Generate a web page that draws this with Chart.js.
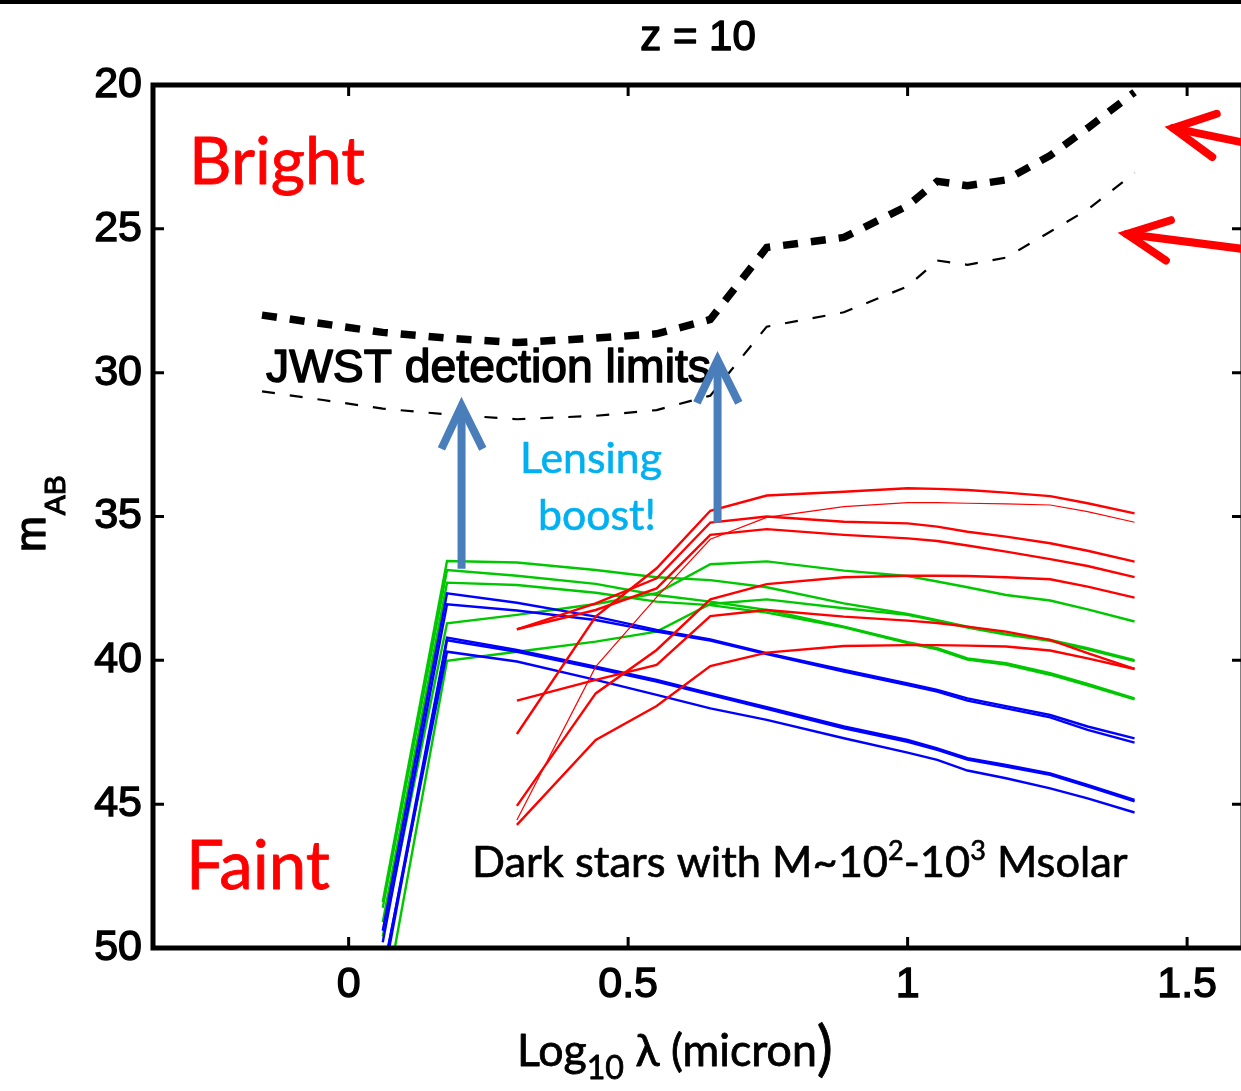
<!DOCTYPE html>
<html>
<head>
<meta charset="UTF-8">
<title>z = 10</title>
<script src="https://cdn.jsdelivr.net/npm/chart.js"></script>
<style>
  html, body { margin: 0; padding: 0; background: #fff; overflow: hidden; }
  canvas { display: block; }
</style>
</head>
<body>
<canvas id="sedChart" width="1260" height="1091"></canvas>
<script>
// axis ticks
const xTicks = [0, 0.5, 1, 1.5];
const yTicks = [20, 25, 30, 35, 40, 45, 50];

// JWST detection limits, log10 of filter wavelength (micron)
const limitWave = [-0.155, -0.046, 0.061, 0.176, 0.301, 0.442, 0.551, 0.647, 0.748, 0.886, 1.0, 1.053, 1.107, 1.176, 1.255, 1.322, 1.406];
const limitThick = [28.0, 28.3, 28.6, 28.8, 28.95, 28.8, 28.65, 28.15, 25.65, 25.3, 24.2, 23.35, 23.5, 23.3, 22.45, 21.5, 20.25];
const limitThin = [30.65, 30.95, 31.25, 31.45, 31.62, 31.5, 31.3, 30.8, 28.4, 27.9, 27.0, 26.1, 26.25, 26.0, 25.1, 24.33, 23.05];

// dark star models
const modelWave = [0.061, 0.176, 0.301, 0.442, 0.551, 0.647, 0.748, 0.886, 1.0, 1.053, 1.107, 1.176, 1.255, 1.322, 1.406];

const green1 = [48.4, 36.55, 36.6, 36.86, 37.11, 37.21, 37.46, 38.02, 38.39, 38.6, 38.83, 39.08, 39.29, 39.58, 39.99];
const green2 = [48.6, 36.86, 37.06, 37.34, 37.73, 37.96, 38.25, 38.83, 39.37, 39.58, 39.93, 40.1, 40.45, 40.82, 41.32];
const green3 = [49.1, 37.3, 37.38, 37.65, 37.96, 38.08, 38.34, 38.85, 39.4, 39.62, 39.97, 40.15, 40.5, 40.87, 41.36];
const green4 = [49.6, 38.71, 38.42, 38.04, 37.67, 36.66, 36.56, 36.88, 37.07, 37.26, 37.46, 37.73, 37.92, 38.23, 38.65];
const green5 = [52.3, 40.02, 39.7, 39.35, 39.0, 38.04, 37.88, 38.19, 38.42, 38.63, 38.86, 39.1, 39.32, 39.62, 40.03];

const blue1 = [49.4, 37.67, 38.0, 38.48, 38.94, 39.27, 39.75, 40.33, 40.8, 41.03, 41.32, 41.59, 41.9, 42.3, 42.71];
const blue2 = [49.8, 38.05, 38.27, 38.6, 39.0, 39.31, 39.78, 40.39, 40.86, 41.09, 41.4, 41.67, 41.98, 42.42, 42.86];
const blue3 = [51.0, 39.21, 39.64, 40.22, 40.68, 41.15, 41.63, 42.3, 42.77, 43.06, 43.4, 43.64, 43.93, 44.33, 44.85];
const blue4 = [51.2, 39.3, 39.7, 40.28, 40.74, 41.2, 41.69, 42.36, 42.83, 43.11, 43.45, 43.69, 43.98, 44.38, 44.9];
const blue5 = [50.9, 39.7, 40.04, 40.68, 41.2, 41.67, 42.07, 42.71, 43.21, 43.46, 43.83, 44.1, 44.45, 44.8, 45.29];

const red1 = [null, null, 42.56, 38.48, 36.8, 34.8, 34.27, 34.14, 34.02, 34.04, 34.08, 34.17, 34.29, 34.54, 34.89];
const red2 = [null, null, 45.55, 40.22, 37.8, 35.79, 35.03, 34.66, 34.52, 34.52, 34.54, 34.56, 34.6, 34.83, 35.2];
const red3 = [null, null, 38.92, 38.02, 37.15, 35.21, 35.0, 35.18, 35.24, 35.35, 35.53, 35.7, 35.93, 36.19, 36.57];
const red4 = [null, null, 38.92, 38.25, 37.5, 35.64, 35.44, 35.64, 35.76, 35.85, 36.01, 36.22, 36.48, 36.72, 37.11];
const red5 = [null, null, 45.06, 41.15, 39.64, 37.88, 37.35, 37.11, 37.06, 37.06, 37.07, 37.11, 37.18, 37.44, 37.82];
const red6 = [null, null, 41.4, 40.68, 40.16, 38.46, 38.25, 38.48, 38.62, 38.7, 38.83, 39.0, 39.29, 39.75, 40.3];
const red7 = [null, null, 45.72, 42.77, 41.59, 40.2, 39.73, 39.5, 39.47, 39.47, 39.49, 39.52, 39.66, 39.93, 40.3];

const ARIAL = '"Liberation Sans", Arial, sans-serif';
const SOFT = 'Lato, "Open Sans", sans-serif';

function pts(xs, ys) {
  const out = [];
  xs.forEach((x, i) => { if (ys[i] !== null) out.push({ x: x, y: ys[i] }); });
  return out;
}

function series(ys, color, width, order) {
  return {
    data: pts(modelWave, ys),
    borderColor: color,
    borderWidth: width,
    pointRadius: 0,
    tension: 0,
    fill: false,
    order: order
  };
}

const datasets = [
  { data: pts(limitWave, limitThick), borderColor: '#000', borderWidth: 7.5, borderDash: [15, 13],
    borderCapStyle: 'butt', pointRadius: 0, tension: 0, fill: false, order: 0 },
  { data: pts(limitWave, limitThin), borderColor: '#000', borderWidth: 2.2, borderDash: [13, 15],
    pointRadius: 0, tension: 0, fill: false, order: 0 },
  series(red1, '#ff0000', 2.4, 1),
  series(red2, '#ff0000', 1.2, 1),
  series(red3, '#ff0000', 2.4, 1),
  series(red4, '#ff0000', 2.4, 1),
  series(red5, '#ff0000', 2.4, 1),
  series(red6, '#ff0000', 2.4, 1),
  series(red7, '#ff0000', 2.4, 1),
  series(blue1, '#0000ff', 2.4, 2),
  series(blue2, '#0000ff', 2.4, 2),
  series(blue3, '#0000ff', 2.4, 2),
  series(blue4, '#0000ff', 2.4, 2),
  series(blue5, '#0000ff', 2.4, 2),
  series(green1, '#00c800', 2.4, 3),
  series(green2, '#00c800', 2.4, 3),
  series(green3, '#00c800', 2.4, 3),
  series(green4, '#00c800', 2.4, 3),
  series(green5, '#00c800', 2.4, 3)
];

// text helpers: fill plus a thin stroke to match the heavier source type
function put(ctx, text, x, y, heavy) {
  ctx.fillText(text, x, y);
  if (heavy) {
    ctx.lineWidth = heavy;
    ctx.strokeStyle = ctx.fillStyle;
    ctx.strokeText(text, x, y);
  }
}

function fitText(ctx, text, family, width) {
  ctx.font = '100px ' + family;
  return 100 * width / ctx.measureText(text).width;
}

function drawRich(ctx, parts, x, y, width, family, heavy) {
  let w = 0;
  parts.forEach(p => {
    ctx.font = (100 * (p.scale || 1)) + 'px ' + family;
    w += ctx.measureText(p.t).width;
  });
  const size = 100 * width / w;
  let cx = x;
  parts.forEach(p => {
    ctx.font = (size * (p.scale || 1)) + 'px ' + family;
    put(ctx, p.t, cx, y + size * (p.dy || 0), heavy);
    cx += ctx.measureText(p.t).width;
  });
}

function arrow(ctx, chart, tail, tip, legA, legB) {
  const x = chart.scales.x, y = chart.scales.y;
  const P = d => [x.getPixelForValue(d[0]), y.getPixelForValue(d[1])];
  const t0 = P(tail), t1 = P(tip), a = P(legA), b = P(legB);
  ctx.beginPath();
  ctx.moveTo(t0[0], t0[1]);
  ctx.lineTo(t1[0], t1[1]);
  ctx.stroke();
  ctx.beginPath();
  ctx.moveTo(a[0], a[1]);
  ctx.lineTo(t1[0], t1[1]);
  ctx.lineTo(b[0], b[1]);
  ctx.stroke();
}

const decor = {
  id: 'decor',
  afterDraw(chart) {
    const { ctx, chartArea: a, scales: { x, y } } = chart;
    ctx.save();

    // rule along the top of the page
    ctx.fillStyle = '#000';
    ctx.fillRect(0, 0, chart.width, 4);

    // box with inward ticks on all sides
    ctx.strokeStyle = '#000';
    ctx.lineWidth = 3;
    ctx.beginPath();
    xTicks.forEach(v => {
      const px = x.getPixelForValue(v);
      ctx.moveTo(px, a.top); ctx.lineTo(px, a.top + 11);
      ctx.moveTo(px, a.bottom); ctx.lineTo(px, a.bottom - 11);
    });
    yTicks.forEach(v => {
      const py = y.getPixelForValue(v);
      ctx.moveTo(a.left, py); ctx.lineTo(a.left + 11, py);
      ctx.moveTo(a.right, py); ctx.lineTo(a.right - 11, py);
    });
    ctx.stroke();
    ctx.lineWidth = 5;
    ctx.strokeRect(a.left, a.top, a.right - a.left, a.bottom - a.top);

    ctx.textBaseline = 'alphabetic';
    ctx.textAlign = 'left';
    ctx.lineJoin = 'round';

    // title
    ctx.fillStyle = '#000';
    ctx.font = '42px ' + ARIAL;
    ctx.textAlign = 'center';
    put(ctx, 'z = 10', (a.left + a.right) / 2, 50, 1.4);
    ctx.textAlign = 'left';

    // y axis title m_AB
    ctx.save();
    ctx.translate(45, 552);
    ctx.rotate(-Math.PI / 2);
    ctx.font = '43px ' + ARIAL;
    put(ctx, 'm', 0, 0, 1.4);
    const mw = ctx.measureText('m').width;
    ctx.font = '30px ' + ARIAL;
    put(ctx, 'AB', mw + 1, 20, 1.1);
    ctx.restore();

    // x axis title
    drawRich(ctx, [
      { t: 'Log' },
      { t: '10', scale: 0.72, dy: 0.28 },
      { t: ' \u03bb (micron' },
      { t: ')', scale: 1.35, dy: 0.07 }
    ], 517, 1066, 316, SOFT, 0.8);

    // JWST label
    ctx.font = fitText(ctx, 'JWST detection limits', ARIAL, 445) + 'px ' + ARIAL;
    put(ctx, 'JWST detection limits', 266, 382, 1.5);

    // Bright / Faint
    ctx.fillStyle = '#ff0000';
    ctx.font = fitText(ctx, 'Bright', SOFT, 176) + 'px ' + SOFT;
    put(ctx, 'Bright', 189, 184, 0.8);
    ctx.font = fitText(ctx, 'Faint', SOFT, 144) + 'px ' + SOFT;
    put(ctx, 'Faint', 186, 889, 0.8);

    // Lensing boost!
    ctx.fillStyle = '#00b0f0';
    const ls = fitText(ctx, 'Lensing', SOFT, 142);
    ctx.font = ls + 'px ' + SOFT;
    put(ctx, 'Lensing', 520, 473, 0.6);
    put(ctx, 'boost!', 538, 530, 0.6);

    // model description
    ctx.fillStyle = '#000';
    drawRich(ctx, [
      { t: 'Dark stars with M~10' },
      { t: '2', scale: 0.62, dy: -0.38 },
      { t: '-10' },
      { t: '3', scale: 0.62, dy: -0.38 },
      { t: ' Msolar' }
    ], 472, 877, 656, SOFT, 0.7);

    // lensing arrows
    ctx.strokeStyle = '#4a7ebb';
    ctx.lineWidth = 8;
    ctx.lineCap = 'butt';
    ctx.lineJoin = 'miter';
    arrow(ctx, chart, [0.202, 36.82], [0.202, 31.16], [0.166, 32.65], [0.240, 32.65]);
    arrow(ctx, chart, [0.660, 35.22], [0.660, 29.56], [0.623, 31.05], [0.698, 31.05]);

    // red arrows pointing at the limit curves
    ctx.strokeStyle = '#ff0000';
    ctx.lineCap = 'round';
    arrow(ctx, chart, [1.70, 22.4], [1.475, 21.5], [1.553, 21.0], [1.545, 22.5]);
    arrow(ctx, chart, [1.70, 25.95], [1.392, 25.18], [1.471, 24.7], [1.462, 26.1]);

    ctx.restore();
  }
};

const tickFont = { family: ARIAL, size: 43 };

new Chart(document.getElementById('sedChart').getContext('2d'), {
  type: 'line',
  data: { datasets: datasets },
  options: {
    responsive: false,
    animation: false,
    devicePixelRatio: 1,
    events: [],
    layout: { padding: { top: 85, right: 17, left: 0, bottom: 0 } },
    plugins: { legend: { display: false }, tooltip: { enabled: false }, title: { display: false } },
    scales: {
      x: {
        type: 'linear', min: -0.35, max: 1.6,
        grid: { display: false, drawTicks: false }, border: { display: false },
        afterBuildTicks: s => { s.ticks = xTicks.map(v => ({ value: v })); },
        afterFit: s => { s.height = 143; },
        ticks: { color: '#000', font: tickFont, padding: 11, textStrokeColor: '#000', textStrokeWidth: 1.4,
                 autoSkip: false, maxRotation: 0, callback: v => String(v) }
      },
      y: {
        type: 'linear', min: 20, max: 50, reverse: true,
        grid: { display: false, drawTicks: false }, border: { display: false },
        afterBuildTicks: s => { s.ticks = yTicks.map(v => ({ value: v })); },
        afterFit: s => { s.width = 153; },
        ticks: { color: '#000', font: tickFont, padding: 11, textStrokeColor: '#000', textStrokeWidth: 1.4,
                 autoSkip: false, callback: v => String(v) }
      }
    }
  },
  plugins: [decor]
});
</script>
</body>
</html>
